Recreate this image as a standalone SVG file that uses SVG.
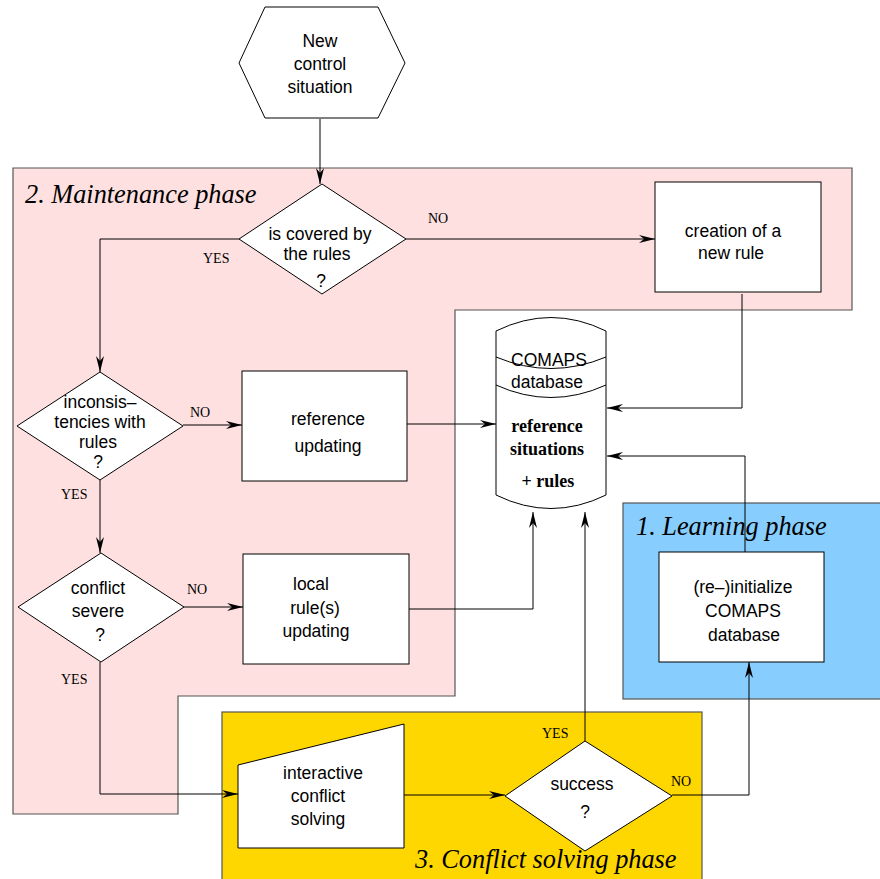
<svg xmlns="http://www.w3.org/2000/svg" width="880" height="879" viewBox="0 0 880 879">
  <style>
    .node { fill: #ffffff; stroke: #000000; stroke-width: 1; }
    .region { stroke: #555555; stroke-width: 1.2; }
    .conn { fill: none; stroke: #000000; stroke-width: 1; marker-end: url(#arrow); }
    .plain { fill: none; stroke: #000000; stroke-width: 1; }
    .txt { font-family: "Liberation Sans", Arial, sans-serif; font-size: 17.5px; fill: #000000; text-anchor: middle; }
    .bold { font-family: "Liberation Serif", "Times New Roman", serif; font-size: 18px; font-weight: bold; fill: #000000; text-anchor: middle; }
    .lbl { font-family: "Liberation Serif", "Times New Roman", serif; font-size: 14px; fill: #000000; }
    .phase { font-family: "Liberation Serif", "Times New Roman", serif; font-size: 26.3px; font-style: italic; fill: #000000; }
  </style>
  <defs>
    <marker id="arrow" viewBox="0 0 16 8" markerWidth="16" markerHeight="8" refX="16" refY="4" orient="auto" markerUnits="userSpaceOnUse">
      <path d="M0,0 L16,4 L0,8 L5,4 Z" fill="#000000"/>
    </marker>
  </defs>

  <!-- phase regions -->
  <g id="regions">
    <polygon id="maintenance-region" class="region" fill="#ffe0e0"
             points="13,168 852,168 852,310 455,310 455,696 178,696 178,814 13,814"/>
    <rect id="learning-region" class="region" fill="#87ceff" x="623" y="503" width="270" height="196"/>
    <rect id="conflict-region" class="region" fill="#ffd700" x="222" y="712" width="480" height="180"/>
    <text class="phase" x="25" y="203">2. Maintenance phase</text>
    <text class="phase" x="636" y="535">1. Learning phase</text>
    <text class="phase" x="415" y="868">3. Conflict solving phase</text>
  </g>

  <!-- connectors -->
  <g id="connectors">
    <path class="conn" d="M320,119 L320,184"/>
    <path class="conn" d="M239,239 L100,239 L100,372"/>
    <path class="conn" d="M406,239 L655,239"/>
    <path class="conn" d="M742,294 L742,408 L607,408"/>
    <path class="conn" d="M183,425 L242,425"/>
    <path class="conn" d="M407,424 L496,424"/>
    <path class="conn" d="M100,480 L100,553"/>
    <path class="conn" d="M184,607 L243,607"/>
    <path class="conn" d="M409,609 L533,609 L533,512"/>
    <path class="conn" d="M100,662 L100,794 L238,794"/>
    <path class="conn" d="M404,795 L505,795"/>
    <path class="conn" d="M585,741 L585,512"/>
    <path class="conn" d="M672,795 L749,795 L749,662"/>
    <path class="conn" d="M745,553 L745,456 L607,456"/>
    <text class="lbl" x="428" y="223">NO</text>
    <text class="lbl" x="203" y="263">YES</text>
    <text class="lbl" x="190" y="417">NO</text>
    <text class="lbl" x="61" y="499">YES</text>
    <text class="lbl" x="187" y="594">NO</text>
    <text class="lbl" x="61" y="684">YES</text>
    <text class="lbl" x="542" y="738">YES</text>
    <text class="lbl" x="671" y="786">NO</text>
  </g>

  <!-- nodes -->
  <g id="new-situation">
    <polygon class="node" points="265,7 378,7 405,63 378,118 265,118 239,63"/>
    <text class="txt" x="320" y="47">New</text>
    <text class="txt" x="320" y="70">control</text>
    <text class="txt" x="320" y="93">situation</text>
  </g>

  <g id="covered-decision">
    <polygon class="node" points="322,184 406,239 322,294 239,239"/>
    <text class="txt" x="320" y="240">is covered by</text>
    <text class="txt" x="317" y="260">the rules</text>
    <text class="txt" x="321" y="287">?</text>
  </g>

  <g id="new-rule">
    <rect class="node" x="655" y="182" width="166" height="110"/>
    <text class="txt" x="733" y="237">creation of a</text>
    <text class="txt" x="731" y="259">new rule</text>
  </g>

  <g id="database">
    <path class="node" d="M496,331 Q551,304 606,331 L606,495 Q551,522 496,495 Z"/>
    <path class="plain" d="M496,357 Q551,380 606,357"/>
    <path class="plain" d="M496,385 Q551,410 606,385"/>
    <text class="txt" x="549" y="366">COMAPS</text>
    <text class="txt" x="547" y="388">database</text>
    <text class="bold" x="547" y="432">reference</text>
    <text class="bold" x="547" y="455">situations</text>
    <text class="bold" x="548" y="487">+ rules</text>
  </g>

  <g id="inconsistency-decision">
    <polygon class="node" points="100,372 183,426 100,480 17,426"/>
    <text class="txt" x="100" y="408">inconsis–</text>
    <text class="txt" x="100" y="428">tencies with</text>
    <text class="txt" x="98" y="448">rules</text>
    <text class="txt" x="98" y="468">?</text>
  </g>

  <g id="reference-updating">
    <rect class="node" x="242" y="371" width="165" height="110"/>
    <text class="txt" x="328" y="425">reference</text>
    <text class="txt" x="328" y="452">updating</text>
  </g>

  <g id="severity-decision">
    <polygon class="node" points="101,553 184,607 101,662 18,607"/>
    <text class="txt" x="98" y="594">conflict</text>
    <text class="txt" x="98" y="617">severe</text>
    <text class="txt" x="100" y="641">?</text>
  </g>

  <g id="local-updating">
    <rect class="node" x="243" y="554" width="166" height="110"/>
    <text class="txt" x="311" y="590">local</text>
    <text class="txt" x="315" y="614">rule(s)</text>
    <text class="txt" x="316" y="637">updating</text>
  </g>

  <g id="reinitialize">
    <rect class="node" x="659" y="552" width="165" height="110"/>
    <text class="txt" x="743" y="593">(re–)initialize</text>
    <text class="txt" x="743" y="617">COMAPS</text>
    <text class="txt" x="744" y="641">database</text>
  </g>

  <g id="interactive-solving">
    <polygon class="node" points="238,765 404,724 404,848 238,848"/>
    <text class="txt" x="323" y="779">interactive</text>
    <text class="txt" x="318" y="802">conflict</text>
    <text class="txt" x="318" y="825">solving</text>
  </g>

  <g id="success-decision">
    <polygon class="node" points="585,741 672,796 585,851 505,796"/>
    <text class="txt" x="582" y="790">success</text>
    <text class="txt" x="585" y="818">?</text>
  </g>
</svg>
